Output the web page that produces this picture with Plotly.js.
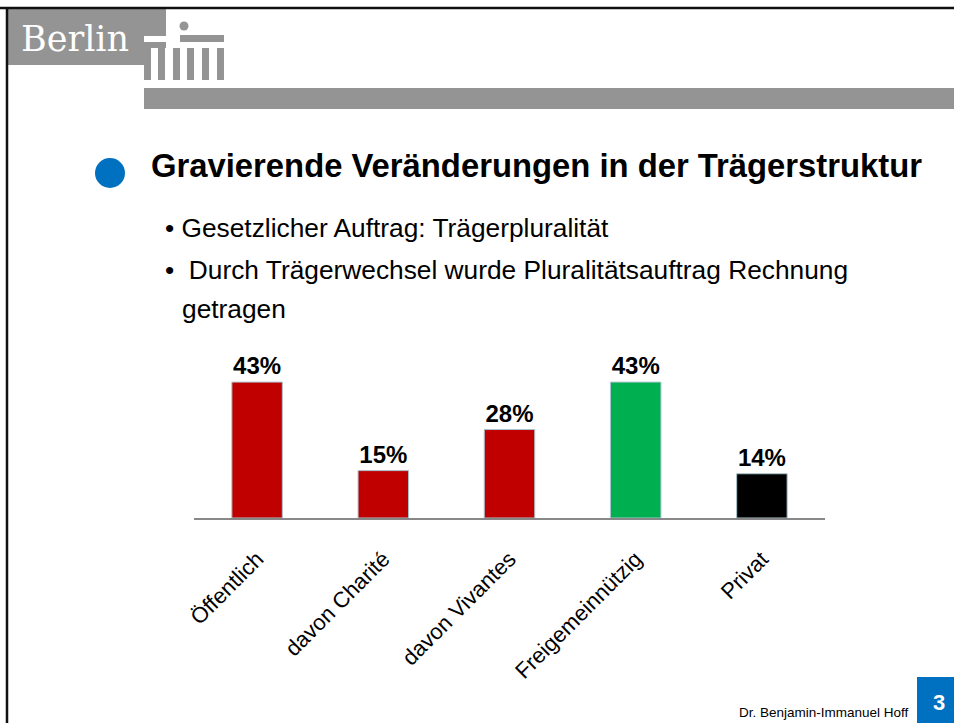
<!DOCTYPE html>
<html>
<head>
<meta charset="utf-8">
<script src="https://cdn.plot.ly/plotly-3.0.1.min.js"></script>
<style>html,body{margin:0;padding:0;background:#fff;}#chart{width:954px;height:723px;}</style>
</head>
<body>
<div id="chart"></div>
<script>
// ---- data ----
const categories = ["Öffentlich", "davon Charité", "davon Vivantes", "Freigemeinnützig", "Privat"];
const shares = [43, 15, 28, 43, 14];
const headline = "Gravierende Veränderungen in der Trägerstruktur";
const bulletLines = ["• Gesetzlicher Auftrag: Trägerpluralität", "•\u00A0\u00A0Durch Trägerwechsel wurde Pluralitätsauftrag Rechnung", "getragen"];
const footerText = "Dr. Benjamin-Immanuel Hoff";
const pageNumber = "3";

// ---- styles ----
const barColors = ["#C00000", "#C00000", "#C00000", "#00B050", "#000000"];
const W = 954, H = 723, ML = 194, MR = 129, MT = 360, MB = 205;
const PW = W - ML - MR, PH = H - MT - MB;
const fx = px => (px - ML) / PW;
const fy = py => (H - MB - py) / PH;
const SANS = "Liberation Sans, Arial, sans-serif";
const GRAY = "#949494", BLUE = "#0070C0";

function rect(x0, y0, x1, y1, color) {
  return {type: "rect", xref: "paper", yref: "paper", x0: fx(x0), x1: fx(x1), y0: fy(y0), y1: fy(y1),
          fillcolor: color, line: {width: 0}, layer: "above"};
}
function line(x0, y0, x1, y1, color, w) {
  return {type: "line", xref: "paper", yref: "paper", x0: fx(x0), x1: fx(x1), y0: fy(y0), y1: fy(y1),
          line: {color: color, width: w}, layer: "above"};
}
function circle(cx, cy, r, color) {
  return {type: "circle", xref: "paper", yref: "paper", x0: fx(cx - r), x1: fx(cx + r), y0: fy(cy - r), y1: fy(cy + r),
          fillcolor: color, line: {width: 0}, layer: "above"};
}
function label(text, x, y, size, opts) {
  return Object.assign({text: text, xref: "paper", yref: "paper", x: fx(x), y: fy(y), showarrow: false,
          xanchor: "left", yanchor: "middle", font: {family: SANS, size: size, color: "#000"}}, opts || {});
}

const shapes = [
  // logo block
  rect(7, 9, 166, 65, GRAY),
  rect(144, 36, 180, 42, "#ffffff"),
  rect(144, 48, 166, 66, "#ffffff"),
  rect(180, 35, 224, 42, GRAY),
  circle(184, 26, 4.5, GRAY),
  // columns
  rect(144, 48, 151, 80, GRAY), rect(158, 48, 165, 80, GRAY), rect(173, 48, 180, 80, GRAY),
  rect(187, 48, 194, 80, GRAY), rect(202, 48, 209, 80, GRAY), rect(217, 48, 224, 80, GRAY),
  // header band
  rect(144, 88, 954, 109, GRAY),
  // frame
  line(0, 8, 954, 8, "#111", 2.5),
  line(7, 7, 7, 723, "#111", 2.5),
  // title bullet
  circle(110, 173, 15, BLUE),
  // page number box
  rect(917, 677, 954, 723, BLUE)
];

const annotations = [
  label("Berlin", 19, 39, 35, {font: {family: "DejaVu Serif, Liberation Serif, serif", size: 35, color: "#fff"}}),
  label("<b>" + headline + "</b>", 149, 165, 32.8),
  label(bulletLines[0], 163, 228, 26.3),
  label(bulletLines[1], 163, 270, 26.3),
  label(bulletLines[2], 180, 309, 26.3),
  label(footerText, 911, 712, 13.5, {xanchor: "right"}),
  label("<b>" + pageNumber + "</b>", 939, 702, 22, {xanchor: "center", font: {family: SANS, size: 22, color: "#fff"}})
];

const trace = {
  type: "bar",
  x: categories,
  y: shares,
  width: 0.4,
  marker: {color: barColors, line: {color: "#a9c4cf", width: 1}},
  texttemplate: "<b>%{y}%</b>",
  textposition: "outside",
  cliponaxis: false,
  textfont: {family: SANS, size: 24, color: "#000"},
  hoverinfo: "skip"
};

const layout = {
  width: W, height: H,
  margin: {l: ML, r: MR, t: MT, b: MB, pad: 0},
  paper_bgcolor: "#ffffff", plot_bgcolor: "#ffffff",
  showlegend: false,
  xaxis: {type: "category", range: [-0.5, 4.5], showline: true, linecolor: "#888", linewidth: 1.5,
          ticks: "", showgrid: false, zeroline: false, tickangle: -45, ticklabelstandoff: 18,
          tickfont: {family: SANS, size: 22, color: "#000"}},
  yaxis: {range: [0, 50], visible: false, fixedrange: true},
  shapes: shapes,
  annotations: annotations
};

Plotly.newPlot("chart", [trace], layout, {displayModeBar: false, staticPlot: true});
</script>
</body>
</html>
